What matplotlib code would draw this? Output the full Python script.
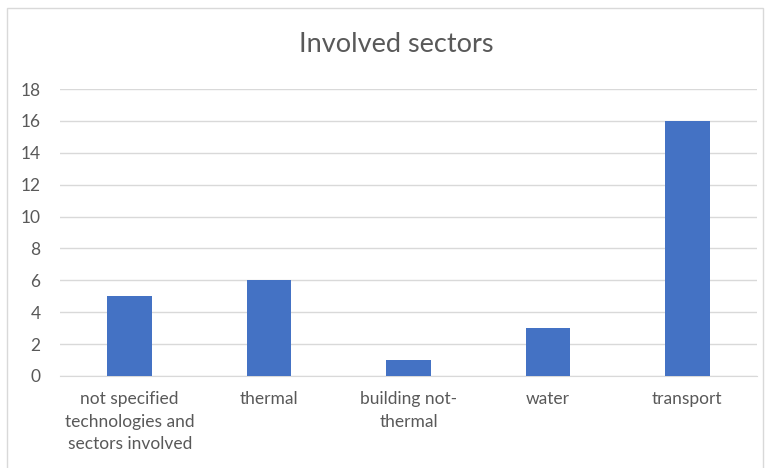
import matplotlib
matplotlib.use("Agg")
import matplotlib.pyplot as plt
from matplotlib.patches import Rectangle

categories = ["not specified\ntechnologies and\nsectors involved", "thermal",
              "building not-\nthermal", "water", "transport"]
counts = [5, 6, 1, 3, 16]
y_ticks = [0, 2, 4, 6, 8, 10, 12, 14, 16, 18]

plt.rcParams["font.family"] = ["Lato", "DejaVu Sans"]

W, H = 769, 468
fig = plt.figure(figsize=(W / 100, H / 100), dpi=100)
fig.patch.set_facecolor("white")

# chart area border
fig.patches.append(Rectangle((7 / W, -0.01), (763 - 7) / W, (H - 8) / H + 0.01,
                             transform=fig.transFigure, fill=False,
                             edgecolor="#d9d9d9", linewidth=1.0))

ax = fig.add_axes([60 / W, (H - 376) / H, (757 - 60) / W, (376 - 89) / H])
x = range(len(categories))
ax.bar(x, counts, width=0.32, color="#4472C4", zorder=3)

ax.set_xlim(-0.5, len(categories) - 0.5)
ax.set_ylim(0, 18)
ax.set_yticks(y_ticks)
ax.set_xticks(list(x))
ax.set_xticklabels(categories, linespacing=1.5)
ax.grid(axis="y", color="#d9d9d9", linewidth=1.0, zorder=0)
for s in ["top", "right", "left"]:
    ax.spines[s].set_visible(False)
ax.spines["bottom"].set_color("#d9d9d9")
ax.tick_params(axis="both", length=0, colors="#595959", labelsize=12.5)
ax.tick_params(axis="y", pad=14)
ax.tick_params(axis="x", pad=11)

fig.text(396 / W, (H - 45) / H, "Involved sectors",
         ha="center", va="center", fontsize=19.5, color="#595959")

fig.savefig("out.png", dpi=100)
